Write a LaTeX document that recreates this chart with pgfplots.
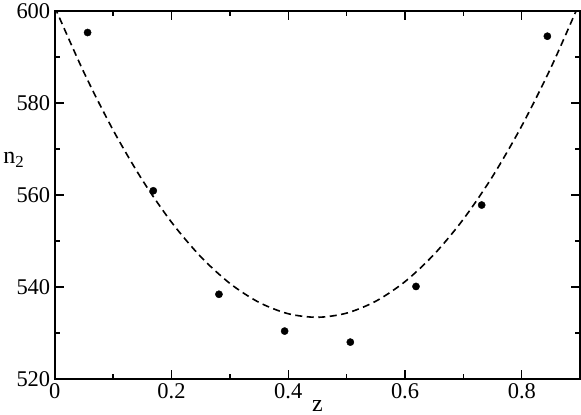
\documentclass[border=0pt]{standalone}
\usepackage{fontspec}
\setmainfont{Liberation Serif}
\usepackage{pgfplots}
\pgfplotsset{compat=1.18}

\begin{document}
\begin{tikzpicture}
\begin{axis}[
  scale only axis,
  width=524bp, height=367bp,
  xmin=0, xmax=0.9, ymin=520, ymax=600,
  xtick={0,0.2,0.4,0.6,0.8},
  ytick={520,540,560,580,600},
  minor tick num=1,
  tick align=inside,
  major tick length=9bp, minor tick length=5bp,
  axis line style={line width=1.6bp},
  every tick/.style={line width=1.3bp, black},
  tick label style={font=\fontsize{22.5}{26}\selectfont},
  /pgf/number format/assume math mode=true,
  xticklabel style={/pgf/number format/fixed, yshift=-1bp},
  yticklabel style={/pgf/number format/fixed, xshift=-1bp},
  scaled ticks=false,
  xlabel={z},
  xlabel style={font=\fontsize{24}{26}\selectfont, yshift=5bp, inner sep=3bp},
  ylabel={n\textsubscript{2}},
  ylabel style={font=\fontsize{24}{26}\selectfont, rotate=-90, at={(axis description cs:-0.078,0.595)}, anchor=center},
  clip=true,
]
% fitted curve (dashed)
\addplot[black, line width=1.6bp, dash pattern=on 7bp off 4.5bp, smooth] coordinates {
(0.00,600.84) (0.05,586.62) (0.10,574.09) (0.15,563.24) (0.20,554.07)
(0.25,546.57) (0.30,540.76) (0.35,536.63) (0.40,534.17) (0.45,533.40)
(0.50,534.31) (0.55,536.90) (0.60,541.16) (0.65,547.11) (0.70,554.74)
(0.75,564.04) (0.80,575.03) (0.85,587.70) (0.90,602.05)
};
% data points
\addplot[only marks, mark=*, mark size=3.6bp, black] coordinates {
(0.05625,595.3) (0.16875,560.9) (0.28125,538.4) (0.39375,530.4)
(0.50625,528.0) (0.61875,540.1) (0.73125,557.8) (0.84375,594.5)
};
\end{axis}
\end{tikzpicture}
\end{document}
